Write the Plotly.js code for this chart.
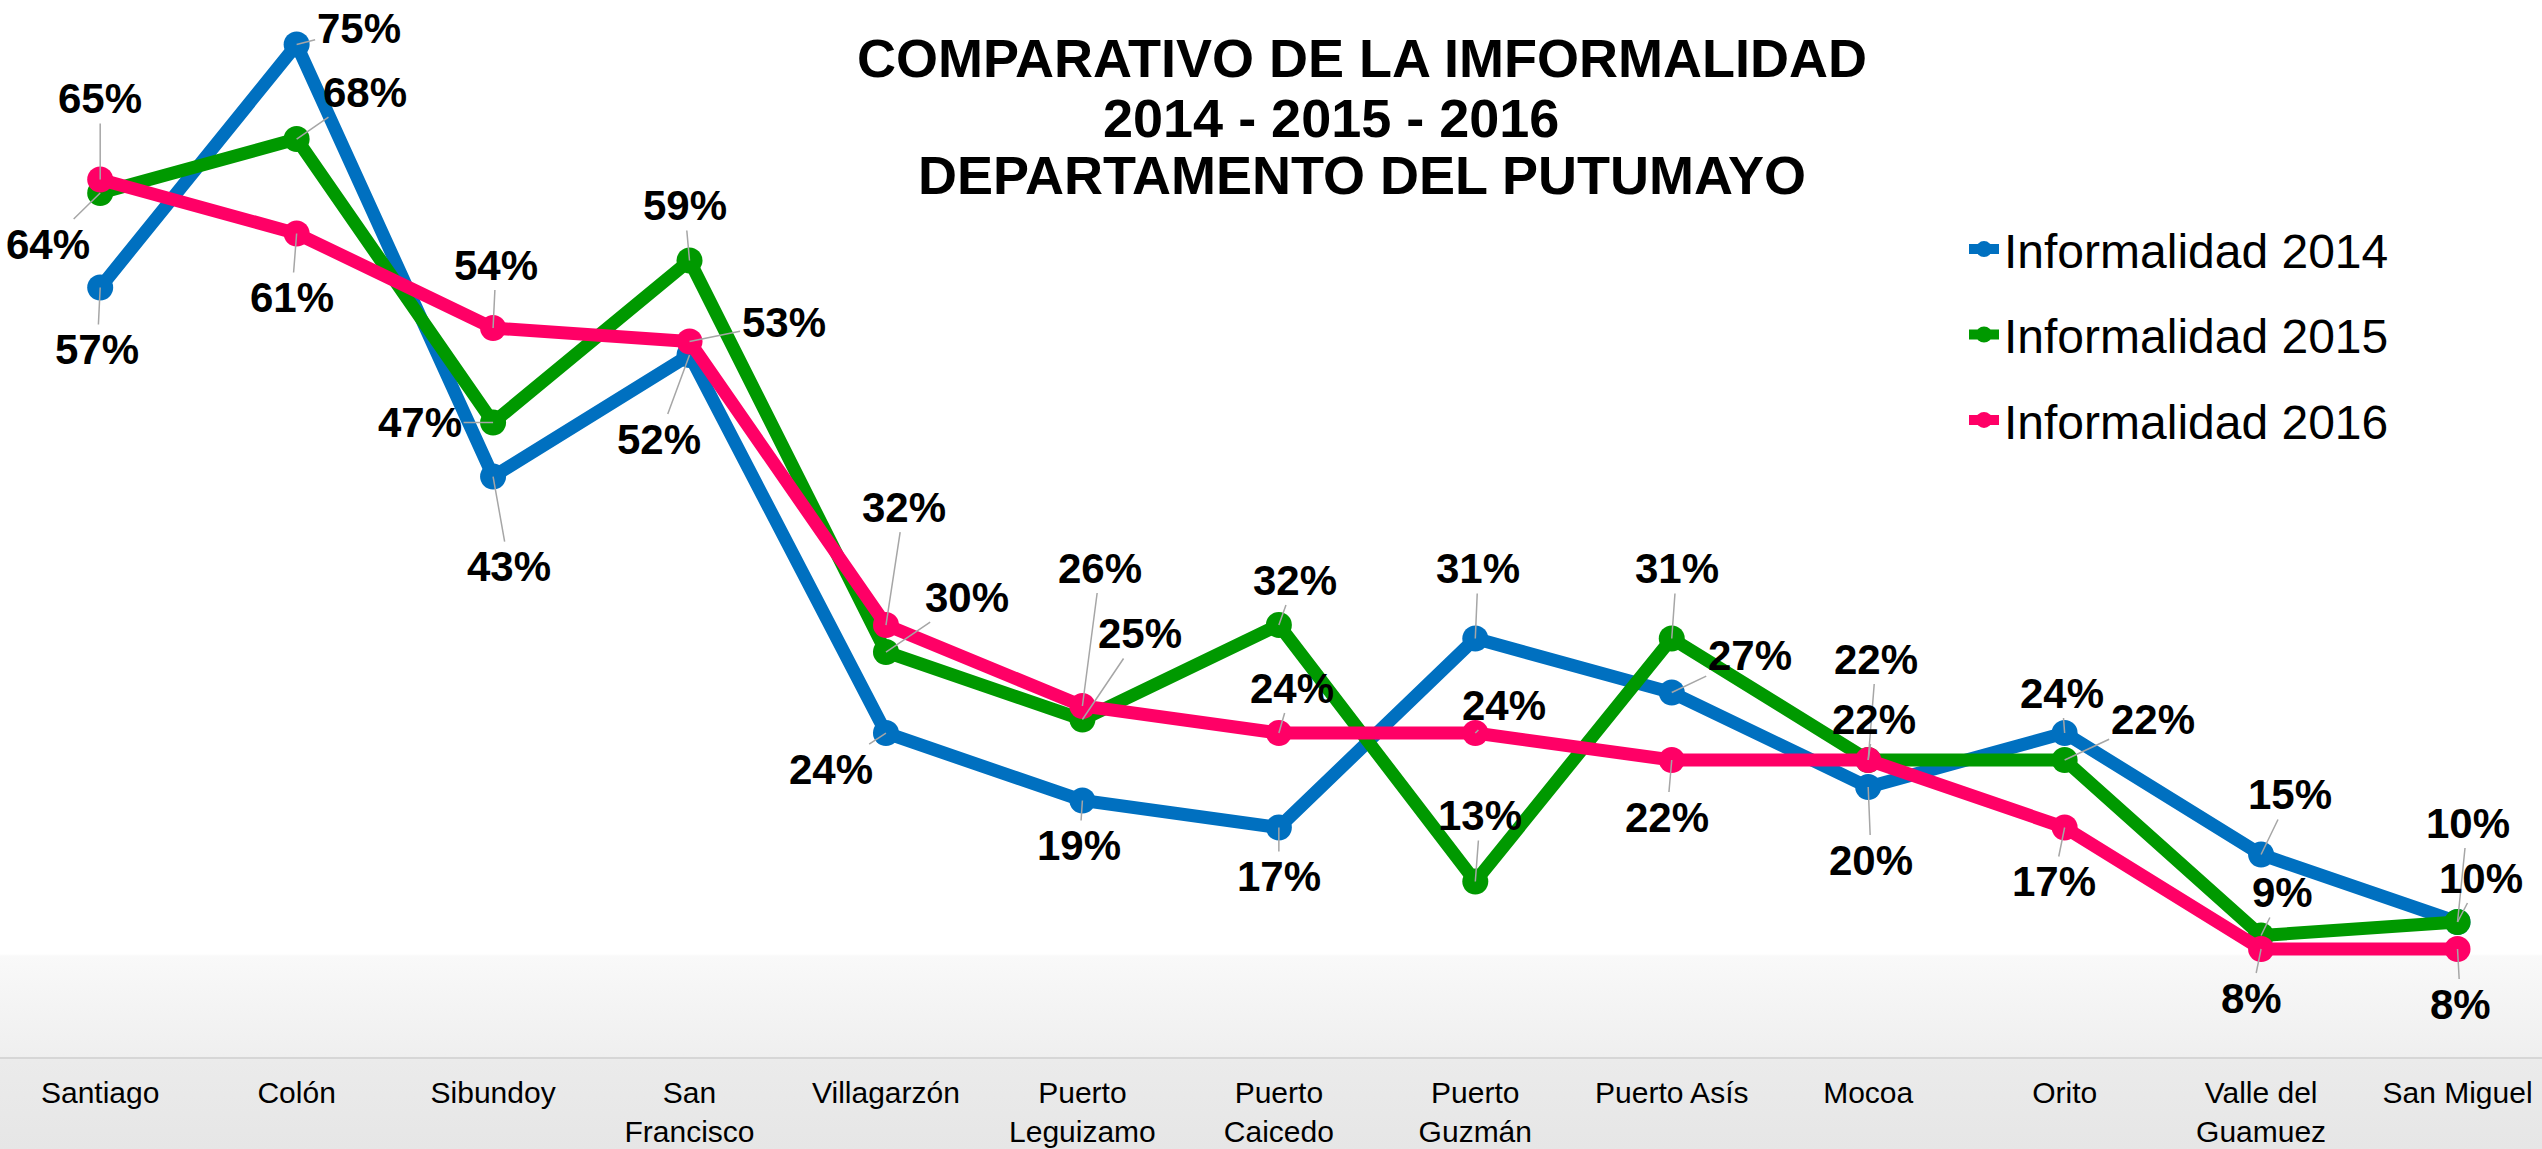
<!DOCTYPE html>
<html>
<head>
<meta charset="utf-8">
<script src="https://cdn.plot.ly/plotly-3.0.1.min.js"></script>
<style>
html, body { margin: 0; padding: 0; }
body { background: linear-gradient(to bottom, #ffffff 0px, #ffffff 954px, #f9f9f9 956px, #efefef 1056px, #ebebeb 1060px, #e6e6e6 1149px); }
#chart { width: 2542px; height: 1149px; }
</style>
</head>
<body>
<div id="chart"></div>
<script>
var municipios = ['Santiago', 'Colón', 'Sibundoy', 'San Francisco', 'Villagarzón', 'Puerto Leguizamo',
    'Puerto Caicedo', 'Puerto Guzmán', 'Puerto Asís', 'Mocoa', 'Orito', 'Valle del Guamuez', 'San Miguel'];
var etiquetas = ['Santiago', 'Colón', 'Sibundoy', 'San<br>Francisco', 'Villagarzón', 'Puerto<br>Leguizamo',
    'Puerto<br>Caicedo', 'Puerto<br>Guzmán', 'Puerto Asís', 'Mocoa', 'Orito', 'Valle del<br>Guamuez', 'San Miguel'];
var inf2014 = [57, 75, 43, 52, 24, 19, 17, 31, 27, 20, 24, 15, 10];
var inf2015 = [64, 68, 47, 59, 30, 25, 32, 13, 31, 22, 22, 9, 10];
var inf2016 = [65, 61, 54, 53, 32, 26, 24, 24, 22, 22, 17, 8, 8];

// where each value label sits, relative to its point (px)
var pos2014 = [[-3, 62], [62, -16], [16, 90], [-31, 84], [-55, 36], [-3, 45], [0, 49], [3, -70], [78, -37], [3, 73], [-3, -40], [29, -60], [10, -99]];
var pos2015 = [[-52, 51], [68, -47], [-73, 0], [-5, -55], [81, -55], [58, -86], [16, -45], [5, -66], [5, -70], [8, -101], [88, -41], [21, -43], [23, -44]];
var pos2016 = [[0, -81], [-5, 64], [3, -63], [94, -19], [18, -118], [18, -138], [13, -45], [29, -28], [-5, 57], [6, -41], [-11, 54], [-10, 49], [3, 55]];

var sans = '"Liberation Sans", Arial, sans-serif';

var series = [
    {name: 'Informalidad 2014', y: inf2014, pos: pos2014, color: '#0070C0'},
    {name: 'Informalidad 2015', y: inf2015, pos: pos2015, color: '#009900'},
    {name: 'Informalidad 2016', y: inf2016, pos: pos2016, color: '#FF0066'}
];

var data = [];
var annotations = [];
series.forEach(function (s, k) {
    data.push({
        x: municipios,
        y: s.y,
        name: s.name,
        legendgroup: 'g' + k,
        type: 'scatter',
        mode: 'lines+markers',
        line: {color: s.color, width: 13},
        marker: {color: s.color, size: 26},
        cliponaxis: false,
        hoverinfo: 'skip'
    });
    for (var i = 0; i < s.y.length; i++) {
        annotations.push({
            x: municipios[i],
            y: s.y[i],
            text: s.y[i] + '%',
            showarrow: true,
            arrowhead: 0,
            arrowwidth: 1.5,
            arrowcolor: '#a6a6a6',
            standoff: 0,
            ax: s.pos[i][0],
            ay: s.pos[i][1],
            font: {family: sans, size: 42, color: '#000000', weight: 'bold'}
        });
    }
});

// second and third title lines (tighter spacing than a <br> title allows)
annotations.push({
    xref: 'paper', yref: 'paper', x: 1331 / 2542, y: (1057 - 118) / 1057,
    text: '2014 - 2015 - 2016', showarrow: false, xanchor: 'center', yanchor: 'middle',
    font: {family: sans, size: 54, color: '#000000', weight: 'bold'}
});
annotations.push({
    xref: 'paper', yref: 'paper', x: 1362 / 2542, y: (1057 - 175) / 1057,
    text: 'DEPARTAMENTO DEL PUTUMAYO', showarrow: false, xanchor: 'center', yanchor: 'middle',
    font: {family: sans, size: 54, color: '#000000', weight: 'bold'}
});

var layout = {
    width: 2542,
    height: 1149,
    margin: {t: 0, l: 0, r: 0, b: 92},
    paper_bgcolor: 'rgba(0,0,0,0)',
    plot_bgcolor: 'rgba(0,0,0,0)',
    title: {
        text: 'COMPARATIVO DE LA IMFORMALIDAD',
        font: {family: sans, size: 54, color: '#000000', weight: 'bold'},
        x: 1362 / 2542, xanchor: 'center', xref: 'container',
        y: 1 - 58 / 1149, yanchor: 'middle', yref: 'container'
    },
    xaxis: {
        type: 'category',
        range: [-0.51, 12.43],
        tickvals: municipios,
        ticktext: etiquetas,
        showgrid: false,
        zeroline: false,
        showline: true,
        linecolor: '#d6d6d6',
        linewidth: 2,
        ticks: '',
        ticklabelstandoff: 8,
        tickfont: {family: sans, size: 30, color: '#000000'}
    },
    yaxis: {
        range: [0, 78.3],
        visible: false,
        showgrid: false,
        zeroline: false
    },
    showlegend: true,
    legend: {
        x: 1964 / 2542, xanchor: 'left',
        y: 0.8, yanchor: 'top',
        bgcolor: 'rgba(0,0,0,0)',
        tracegroupgap: 20,
        font: {family: sans, size: 48, color: '#000000'}
    },
    annotations: annotations
};

Plotly.newPlot('chart', data, layout, {displayModeBar: false, staticPlot: true});
</script>
</body>
</html>
